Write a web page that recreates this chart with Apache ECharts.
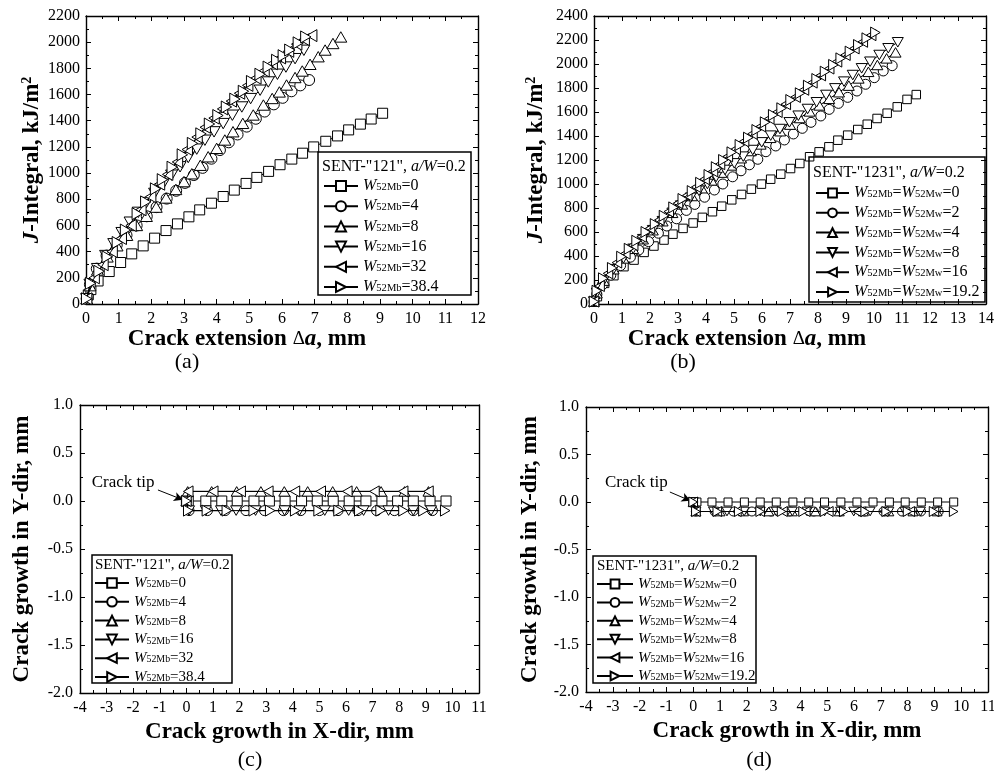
<!DOCTYPE html>
<html><head><meta charset="utf-8">
<script src="https://cdn.jsdelivr.net/npm/echarts@6/dist/echarts.min.js"></script>
<style>html,body{margin:0;padding:0;background:#fff}#c{width:994px;height:778px}</style>
</head><body><div id="c"></div>
<script>
// ---------- tick values ----------
const aXTicks = [0,1,2,3,4,5,6,7,8,9,10,11,12];
const aYTicks = [0,200,400,600,800,1000,1200,1400,1600,1800,2000,2200];
const bXTicks = [0,1,2,3,4,5,6,7,8,9,10,11,12,13,14];
const bYTicks = [0,200,400,600,800,1000,1200,1400,1600,1800,2000,2200,2400];
const cdXTicks = [-4,-3,-2,-1,0,1,2,3,4,5,6,7,8,9,10,11];
const cdYTicks = [-2.0,-1.5,-1.0,-0.5,0.0,0.5,1.0];

// ---------- legend labels ----------
const aLabels = ['W52Mb=0','W52Mb=4','W52Mb=8','W52Mb=16','W52Mb=32','W52Mb=38.4'];
const bLabels = ['W52Mb=W52Mw=0','W52Mb=W52Mw=2','W52Mb=W52Mw=4','W52Mb=W52Mw=8','W52Mb=W52Mw=16','W52Mb=W52Mw=19.2'];

// ---------- panel (a): J-integral vs crack extension, SENT-"121" ----------
const aX0 = [0.02,0.07,0.15,0.37,0.71,1.06,1.4,1.75,2.1,2.45,2.8,3.15,3.48,3.84,4.2,4.54,4.9,5.23,5.59,5.94,6.3,6.63,6.97,7.34,7.7,8.04,8.4,8.73,9.08];
const aY0 = [40,70,110,176,248,317,383,444,503,561,612,666,719,770,821,870,921,967,1013,1064,1107,1152,1200,1243,1284,1330,1374,1413,1457];
const aX1 = [0.02,0.12,0.33,0.63,0.94,1.24,1.55,1.86,2.16,2.47,2.76,3.03,3.3,3.57,3.84,4.1,4.37,4.64,4.92,5.2,5.47,5.75,6.02,6.29,6.56,6.83];
const aY1 = [40,150,270,370,450,525,600,670,740,805,865,925,985,1040,1110,1176,1235,1295,1355,1415,1470,1525,1575,1625,1670,1711];
const aX2 = [0.02,0.12,0.35,0.65,0.95,1.25,1.55,1.85,2.15,2.45,2.75,3.0,3.24,3.5,3.74,4.0,4.25,4.5,4.8,5.12,5.43,5.7,5.92,6.14,6.4,6.62,6.86,7.11,7.32,7.56,7.8];
const aY2 = [40,140,260,360,445,525,600,670,740,810,875,935,995,1060,1125,1189,1253,1316,1380,1444,1520,1570,1620,1673,1730,1780,1831,1889,1940,1990,2040];
const aX3 = [0.02,0.12,0.35,0.6,0.85,1.1,1.35,1.6,1.85,2.1,2.36,2.62,2.88,3.13,3.39,3.64,3.92,4.2,4.48,4.77,5.04,5.33,5.58,5.86,6.12,6.4,6.67];
const aY3 = [40,150,270,370,460,545,625,700,775,845,915,984,1048,1119,1183,1251,1315,1378,1442,1505,1569,1633,1696,1755,1810,1874,1938];
const aX4 = [0.02,0.25,0.52,0.8,1.08,1.38,1.68,1.98,2.25,2.5,2.8,3.1,3.4,3.65,3.92,4.18,4.45,4.7,4.95,5.2,5.45,5.7,5.95,6.2,6.45,6.68,6.91];
const aY4 = [40,200,300,400,500,600,720,820,915,990,1085,1180,1275,1350,1420,1490,1550,1610,1670,1725,1780,1835,1880,1930,1985,2020,2050];
const aX5 = [0.02,0.14,0.4,0.65,0.96,1.21,1.57,1.83,2.13,2.34,2.64,2.95,3.26,3.52,3.78,4.04,4.3,4.56,4.82,5.07,5.33,5.58,5.84,6.04,6.24,6.5,6.73];
const aY5 = [40,158,250,360,470,565,690,780,880,950,1045,1140,1227,1300,1375,1440,1505,1565,1625,1700,1755,1810,1862,1897,1940,1995,2040];

// ---------- panel (b): J-integral vs crack extension, SENT-"1231" ----------
const bX0 = [0,0.12,0.38,0.71,1.07,1.43,1.79,2.14,2.5,2.82,3.18,3.54,3.87,4.23,4.56,4.92,5.27,5.62,5.98,6.31,6.67,7.02,7.35,7.7,8.04,8.39,8.71,9.06,9.42,9.76,10.11,10.47,10.83,11.18,11.51];
const bY0 = [20,61,172,236,311,366,430,483,533,582,630,675,722,769,815,868,913,957,999,1040,1082,1129,1171,1227,1268,1310,1365,1407,1454,1498,1546,1590,1643,1705,1745];
const bX1 = [0,0.1,0.3,0.6,0.95,1.3,1.6,1.95,2.3,2.6,2.95,3.3,3.6,3.95,4.3,4.6,4.95,5.25,5.55,5.85,6.14,6.49,6.8,7.12,7.44,7.75,8.1,8.4,8.73,9.06,9.39,9.7,10.01,10.33,10.65];
const bY1 = [20,80,160,240,320,390,450,520,590,650,710,780,830,890,950,1000,1060,1110,1160,1206,1269,1317,1367,1417,1464,1514,1567,1622,1672,1722,1775,1831,1886,1942,1986];
const bX2 = [0,0.1,0.35,0.7,1.05,1.4,1.75,2.1,2.45,2.8,3.15,3.5,3.85,4.2,4.55,4.9,5.25,5.6,5.95,6.3,6.65,7.0,7.35,7.7,8.05,8.4,8.75,9.1,9.45,9.8,10.12,10.45,10.77];
const bY2 = [20,90,195,290,380,460,540,615,690,760,830,900,965,1030,1095,1155,1215,1275,1330,1385,1440,1495,1550,1605,1655,1710,1765,1820,1880,1935,1992,2047,2097];
const bX3 = [0,0.1,0.35,0.7,1.05,1.4,1.75,2.1,2.45,2.8,3.1,3.45,3.75,4.05,4.36,4.68,5.01,5.33,5.67,5.99,6.31,6.64,6.98,7.3,7.63,7.95,8.29,8.61,8.93,9.24,9.56,9.86,10.19,10.51,10.85];
const bY3 = [20,92,195,290,380,460,540,615,690,760,820,885,943,1000,1058,1117,1172,1228,1283,1347,1403,1458,1514,1569,1625,1681,1742,1797,1853,1908,1964,2019,2075,2131,2181];
const bX4 = [0,0.2,0.5,0.82,1.12,1.4,1.7,2.0,2.33,2.67,3.0,3.33,3.65,3.95,4.25,4.5,4.78,5.06,5.36,5.66,5.96,6.26,6.55,6.85,7.2,7.5,7.8,8.1,8.4,8.68,8.98,9.3,9.6,9.9];
const bY4 = [20,150,255,345,420,490,560,630,700,770,840,905,975,1040,1105,1165,1230,1290,1355,1418,1480,1545,1600,1665,1725,1785,1845,1905,1962,2020,2075,2130,2185,2240];
const bX5 = [0,0.1,0.33,0.65,0.98,1.25,1.52,1.85,2.18,2.5,2.84,3.17,3.5,3.8,4.1,4.36,4.62,4.92,5.21,5.51,5.81,6.11,6.4,6.7,7.02,7.36,7.65,7.95,8.25,8.55,8.81,9.14,9.44,9.74,10.05];
const bY5 = [20,110,214,300,394,460,527,600,666,735,805,875,941,1010,1075,1140,1200,1264,1325,1386,1450,1514,1575,1631,1700,1756,1819,1875,1936,1992,2047,2103,2158,2214,2262];

// ---------- panel (c): crack path, SENT-"121" ----------
const cX0 = [0,0.07,0.73,1.33,1.91,2.54,3.12,3.71,4.33,4.92,5.52,6.12,6.75,7.35,7.94,8.53,9.16,9.76];
const cY0 = [0,0,0,0,0,0,0,0,0,0,0,0,0,0,0,0,0,0];
const cX1 = [0,0.1,0.79,1.46,2.24,2.94,3.65,4.3,5.0,5.7,6.45,7.15,7.82,8.53,9.25];
const cY1 = [0,-0.1,-0.1,-0.1,-0.1,-0.1,-0.1,-0.1,-0.1,-0.1,-0.1,-0.1,-0.1,-0.1,-0.1];
const cX2 = [0,0.05,0.95,1.89,2.8,3.68,4.56,5.5,6.4,7.32,8.2,9.1];
const cY2 = [0,0.1,0.1,0.1,0.1,0.1,0.1,0.1,0.1,0.1,0.1,0.1];
const cX3 = [0,0.1,0.73,1.3,1.87,2.6,3.69,4.25,5.2,6.1,6.66,7.6,8.53,9.2];
const cY3 = [0,-0.1,-0.1,-0.1,-0.1,-0.1,-0.1,-0.1,-0.1,-0.1,-0.1,-0.1,-0.1,-0.1];
const cX4 = [0,0.07,1.01,2.04,3.08,4.08,5.05,6.05,7.07,8.15,9.1];
const cY4 = [0,0.1,0.1,0.1,0.1,0.1,0.1,0.1,0.1,0.1,0.1];
const cX5 = [0,0.07,0.77,1.52,2.53,3.15,4.09,4.97,5.72,6.5,7.3,8.16,8.91,9.73];
const cY5 = [0,-0.1,-0.1,-0.1,-0.1,-0.1,-0.1,-0.1,-0.1,-0.1,-0.1,-0.1,-0.1,-0.1];

// ---------- panel (d): crack path, SENT-"1231" ----------
const dX0 = [0,0.14,0.7,1.3,1.91,2.5,3.1,3.72,4.31,4.9,5.51,6.11,6.71,7.32,7.91,8.51,9.12,9.72];
const dY0 = [0,0,0,0,0,0,0,0,0,0,0,0,0,0,0,0,0,0];
const dX1 = [0,0.1,0.8,1.5,2.19,2.9,3.6,4.5,5.49,6.4,7.1,7.79,8.5,9.16];
const dY1 = [0,-0.1,-0.1,-0.1,-0.1,-0.1,-0.1,-0.1,-0.1,-0.1,-0.1,-0.1,-0.1,-0.1];
const dX2 = [0,0.1,1.0,1.88,2.82,3.7,4.56,5.45,6.35,7.3,8.2,9.1];
const dY2 = [0,-0.1,-0.1,-0.1,-0.1,-0.1,-0.1,-0.1,-0.1,-0.1,-0.1,-0.1];
const dX3 = [0,0.1,0.76,1.26,1.9,2.5,3.1,3.7,4.25,4.9,5.5,5.99,6.6,7.3,7.9,8.48,9.1];
const dY3 = [0,-0.1,-0.1,-0.1,-0.1,-0.1,-0.1,-0.1,-0.1,-0.1,-0.1,-0.1,-0.1,-0.1,-0.1,-0.1,-0.1];
const dX4 = [0,0.1,0.9,1.63,2.5,3.35,4.2,5.06,6.11,7.11,8.1,9.0];
const dY4 = [0,-0.1,-0.1,-0.1,-0.1,-0.1,-0.1,-0.1,-0.1,-0.1,-0.1,-0.1];
const dX5 = [0,0.1,0.9,1.7,2.5,3.3,4.1,4.9,5.62,6.42,7.2,8.0,8.97,9.72];
const dY5 = [0,-0.1,-0.1,-0.1,-0.1,-0.1,-0.1,-0.1,-0.1,-0.1,-0.1,-0.1,-0.1,-0.1];

// ---------- rendering ----------
const FONT = 'Liberation Serif';
const SYM = [
  'rect',
  'circle',
  'path://M5,0 L10,8.66 L0,8.66 Z',
  'path://M0,0 L10,0 L5,8.66 Z',
  'path://M0,5 L8.66,0 L8.66,10 Z',
  'path://M0,0 L8.66,5 L0,10 Z'
];
const SIZE = {
  a: [10, 11, 12, 12, 12, 12],
  b: [8.5, 10, 11, 11, 11, 11],
  c: [10, 10, 11, 11, 11, 11],
  d: [8, 9, 10, 10, 10, 10]
};
const panels = {
  a: {xs: [aX0,aX1,aX2,aX3,aX4,aX5], ys: [aY0,aY1,aY2,aY3,aY4,aY5], labels: aLabels, idx: 0},
  b: {xs: [bX0,bX1,bX2,bX3,bX4,bX5], ys: [bY0,bY1,bY2,bY3,bY4,bY5], labels: bLabels, idx: 1},
  c: {xs: [cX0,cX1,cX2,cX3,cX4,cX5], ys: [cY0,cY1,cY2,cY3,cY4,cY5], labels: aLabels, idx: 2},
  d: {xs: [dX0,dX1,dX2,dX3,dX4,dX5], ys: [dY0,dY1,dY2,dY3,dY4,dY5], labels: bLabels, idx: 3}
};

const labelMap = {};
const series = [];
const legendNames = {a: [], b: [], c: [], d: []};
Object.keys(panels).forEach(function (k) {
  const p = panels[k];
  for (let i = 0; i < 6; i++) {
    const nm = '(' + k + ') ' + p.labels[i];
    labelMap[nm] = p.labels[i];
    legendNames[k].push(nm);
    series.push({
      type: 'line', name: nm,
      xAxisIndex: p.idx, yAxisIndex: p.idx,
      data: p.xs[i].map(function (x, j) { return [x, p.ys[i][j]]; }),
      symbol: SYM[i], symbolSize: SIZE[k][i], symbolKeepAspect: true,
      showSymbol: true, clip: false,
      lineStyle: {color: '#000', width: 1},
      itemStyle: {color: '#fff', borderColor: '#000', borderWidth: 1},
      emphasis: {disabled: true},
      z: 2 + i
    });
  }
});

function richLabel(s) {
  return s.replace(/W(52M[bw])/g, '{i|W}{s|$1}').replace(/=([^{=]+)$/, '{n|=$1}').replace(/\}=\{/g, '}{n|=}{');
}

// crack-tip annotation
function tipMarks(txt, arrowFrom, arrowTo) {
  return {
    markLine: {
      silent: true, symbol: ['none', 'arrow'], symbolSize: [7, 9],
      lineStyle: {color: '#000', width: 1, type: 'solid'},
      label: {show: false},
      data: [[{coord: arrowFrom}, {coord: arrowTo}]]
    },
    markPoint: {
      silent: true, symbol: 'circle', symbolSize: 1,
      itemStyle: {color: 'rgba(0,0,0,0)'},
      label: {show: true, position: 'inside', formatter: 'Crack tip', color: '#000', fontFamily: FONT, fontSize: 17},
      data: [{coord: txt}]
    }
  };
}
Object.assign(series[12], tipMarks([-2.38, 0.19], [-1.07, 0.115], [-0.13, 0.012]));
Object.assign(series[18], tipMarks([-2.12, 0.21], [-0.87, 0.105], [-0.1, 0.012]));

const grids = [
  {left: 86, top: 16, width: 392, height: 288},
  {left: 594, top: 16, width: 392, height: 288},
  {left: 80, top: 405, width: 399, height: 288},
  {left: 586, top: 407, width: 402, height: 285}
].map(function (g) { return Object.assign({outerBoundsMode: 'none', containLabel: false}, g); });

const tickCfg = {axisTick: {show: true, inside: true, length: 5, lineStyle: {color: '#000', width: 1}},
  minorTick: {show: true, splitNumber: 2, length: 3, lineStyle: {color: '#000', width: 1}},
  axisLine: {show: true, onZero: false, lineStyle: {color: '#000', width: 1.4}},
  splitLine: {show: false}, minorSplitLine: {show: false}};

function axis(type, gi, ticks, pos, opts) {
  const a = Object.assign({
    type: 'value', gridIndex: gi, position: pos,
    min: ticks[0], max: ticks[ticks.length - 1], interval: ticks[1] - ticks[0],
    axisLabel: {show: false}
  }, JSON.parse(JSON.stringify(tickCfg)), opts || {});
  return a;
}
const fmt0 = function (v) { return String(v); };
const fmt1 = function (v) { return v.toFixed(1); };
const tickFont = {color: '#000', fontFamily: FONT, fontSize: 16};
const nameFont = {color: '#000', fontFamily: FONT, fontSize: 23, fontWeight: 'bold'};

const xTitleRich = {
  b: {fontFamily: FONT, fontSize: 23, fontWeight: 'bold', color: '#000'},
  d: {fontFamily: FONT, fontSize: 19, fontWeight: 'normal', color: '#000'},
  i: {fontFamily: FONT, fontSize: 23, fontWeight: 'bold', fontStyle: 'italic', color: '#000'}
};
const yTitleRich = {
  b: {fontFamily: FONT, fontSize: 23, fontWeight: 'bold', color: '#000'},
  i: {fontFamily: FONT, fontSize: 23, fontWeight: 'bold', fontStyle: 'italic', color: '#000'},
  sup: {fontFamily: FONT, fontSize: 14, fontWeight: 'bold', color: '#000', verticalAlign: 'top', padding: [0, 0, 10, 0]}
};

const xAxes = [
  axis('x', 0, aXTicks, 'bottom', {axisLabel: Object.assign({show: true, margin: 7, formatter: fmt0}, tickFont),
    name: '{b|Crack extension }{d|Δ}{i|a}{b|, mm}', nameLocation: 'middle', nameGap: 23,
    nameTextStyle: Object.assign({rich: xTitleRich, padding: [0, 70, 0, 0]}, nameFont)}),
  axis('x', 1, bXTicks, 'bottom', {axisLabel: Object.assign({show: true, margin: 7, formatter: fmt0}, tickFont),
    name: '{b|Crack extension }{d|Δ}{i|a}{b|, mm}', nameLocation: 'middle', nameGap: 23,
    nameTextStyle: Object.assign({rich: xTitleRich, padding: [0, 86, 0, 0]}, nameFont)}),
  axis('x', 2, cdXTicks, 'bottom', {axisLabel: Object.assign({show: true, margin: 7, formatter: fmt0}, tickFont),
    name: 'Crack growth in X-dir, mm', nameLocation: 'middle', nameGap: 28, nameTextStyle: nameFont}),
  axis('x', 3, cdXTicks, 'bottom', {axisLabel: Object.assign({show: true, margin: 7, formatter: fmt0}, tickFont),
    name: 'Crack growth in X-dir, mm', nameLocation: 'middle', nameGap: 28, nameTextStyle: nameFont}),
  axis('x', 0, aXTicks, 'top'), axis('x', 1, bXTicks, 'top'),
  axis('x', 2, cdXTicks, 'top'), axis('x', 3, cdXTicks, 'top')
];
const yAxes = [
  axis('y', 0, aYTicks, 'left', {axisLabel: Object.assign({show: true, margin: 6, formatter: fmt0}, tickFont),
    name: '{i|J}{b|-Integral, kJ/m}{sup|2}', nameLocation: 'middle', nameGap: 42, nameRotate: 90,
    nameTextStyle: Object.assign({rich: yTitleRich}, nameFont)}),
  axis('y', 1, bYTicks, 'left', {axisLabel: Object.assign({show: true, margin: 6, formatter: fmt0}, tickFont),
    name: '{i|J}{b|-Integral, kJ/m}{sup|2}', nameLocation: 'middle', nameGap: 46, nameRotate: 90,
    nameTextStyle: Object.assign({rich: yTitleRich}, nameFont)}),
  axis('y', 2, cdYTicks, 'left', {axisLabel: Object.assign({show: true, margin: 7, formatter: fmt1}, tickFont),
    name: 'Crack growth in Y-dir, mm', nameLocation: 'middle', nameGap: 46, nameRotate: 90, nameTextStyle: nameFont}),
  axis('y', 3, cdYTicks, 'left', {axisLabel: Object.assign({show: true, margin: 7, formatter: fmt1}, tickFont),
    name: 'Crack growth in Y-dir, mm', nameLocation: 'middle', nameGap: 44, nameRotate: 90, nameTextStyle: nameFont}),
  axis('y', 0, aYTicks, 'right'), axis('y', 1, bYTicks, 'right'),
  axis('y', 2, cdYTicks, 'right'), axis('y', 3, cdYTicks, 'right')
];

function legendRich(fs) {
  return {
    i: {fontFamily: FONT, fontSize: fs, fontStyle: 'italic', color: '#000', lineHeight: fs},
    s: {fontFamily: FONT, fontSize: fs * 0.66, color: '#000', verticalAlign: 'bottom', lineHeight: fs * 0.66, padding: [0, 0, 1, 0]},
    n: {fontFamily: FONT, fontSize: fs, color: '#000', lineHeight: fs}
  };
}
function mkLegend(k, left, top, iw, ih, gap, fs) {
  return {
    data: legendNames[k], orient: 'vertical', left: left, top: top, padding: 0,
    itemWidth: iw, itemHeight: ih, itemGap: gap, selectedMode: false,
    formatter: function (n) { return richLabel(labelMap[n]); },
    textStyle: {fontFamily: FONT, fontSize: fs, color: '#000', lineHeight: fs, rich: legendRich(fs)}
  };
}
const legends = [
  mkLegend('a', 323, 178, 34, 12.5, 4.2, 16),
  mkLegend('b', 815, 185, 33, 11, 3.8, 16),
  mkLegend('c', 94, 575.5, 34, 12, 3.8, 15),
  mkLegend('d', 596, 576.5, 36, 11, 3.4, 15)
];

function titleText(x, y, txt, fs) {
  return {type: 'text', x: x, y: y, z: 20, style: {
    text: txt, fill: '#000', fontFamily: FONT, fontSize: fs, verticalAlign: 'middle',
    rich: {i: {fontFamily: FONT, fontSize: fs, fontStyle: 'italic', fill: '#000'}}
  }};
}
function box(x, y, w, h) {
  return {type: 'rect', z: 20, shape: {x: x, y: y, width: w, height: h}, style: {fill: 'none', stroke: '#000', lineWidth: 1.5}};
}
function panelLabel(x, y, t) {
  return {type: 'text', x: x, y: y, z: 20, style: {text: t, fill: '#000', fontFamily: FONT, fontSize: 22, align: 'center', verticalAlign: 'middle'}};
}
const graphics = [
  box(318, 152, 153, 143), titleText(322, 167, 'SENT-"121", {i|a/W}=0.2', 16),
  box(809, 157, 176, 145), titleText(813, 173, 'SENT-"1231", {i|a/W}=0.2', 16),
  box(92, 555, 140, 128), titleText(95, 565, 'SENT-"121", {i|a/W}=0.2', 15),
  box(593, 556, 163, 127), titleText(597, 566, 'SENT-"1231", {i|a/W}=0.2', 15),
  panelLabel(187, 362, '(a)'), panelLabel(683, 362, '(b)'),
  panelLabel(250, 760, '(c)'), panelLabel(759, 760, '(d)')
];

const chart = echarts.init(document.getElementById('c'), null, {renderer: 'canvas'});
chart.setOption({
  animation: false,
  backgroundColor: '#fff',
  grid: grids,
  xAxis: xAxes,
  yAxis: yAxes,
  legend: legends,
  graphic: graphics,
  series: series
});
</script></body></html>
